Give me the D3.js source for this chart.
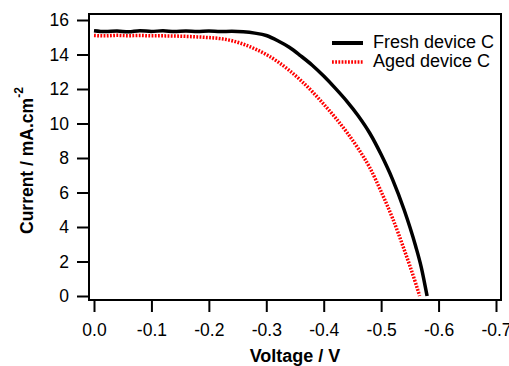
<!DOCTYPE html>
<html>
<head>
<meta charset="utf-8">
<script src="https://cdn.jsdelivr.net/npm/d3@7"></script>
<style>
  html, body { margin: 0; padding: 0; background: #fff; }
  svg { display: block; font-family: "Liberation Sans", Arial, sans-serif; }
</style>
</head>
<body>
<svg id="chart" width="509" height="366"></svg>
<script>
// J-V curves for device C, fresh and after ageing
const freshVoltage = [0, -0.02, -0.04, -0.06, -0.08, -0.10, -0.12, -0.14, -0.16, -0.18, -0.20, -0.22, -0.24, -0.26, -0.28, -0.30, -0.32, -0.34, -0.36, -0.38, -0.40, -0.42, -0.44, -0.46, -0.48, -0.50, -0.52, -0.54, -0.56, -0.57, -0.58];
const freshCurrent = [15.38, 15.33, 15.36, 15.32, 15.38, 15.34, 15.37, 15.33, 15.36, 15.34, 15.36, 15.33, 15.35, 15.32, 15.24, 15.10, 14.80, 14.42, 13.92, 13.38, 12.75, 12.05, 11.30, 10.45, 9.45, 8.20, 6.75, 5.00, 2.90, 1.65, 0.0];

const agedVoltage = [0, -0.02, -0.04, -0.06, -0.08, -0.10, -0.12, -0.14, -0.16, -0.18, -0.20, -0.22, -0.24, -0.26, -0.28, -0.30, -0.32, -0.34, -0.36, -0.38, -0.40, -0.42, -0.44, -0.46, -0.48, -0.50, -0.52, -0.54, -0.56, -0.567];
const agedCurrent = [15.10, 15.08, 15.11, 15.09, 15.10, 15.08, 15.08, 15.07, 15.05, 15.02, 14.98, 14.92, 14.80, 14.60, 14.33, 14.00, 13.58, 13.08, 12.50, 11.85, 11.12, 10.35, 9.50, 8.55, 7.45, 6.05, 4.50, 2.70, 0.75, 0.0];

const xTicks = [0, -0.1, -0.2, -0.3, -0.4, -0.5, -0.6, -0.7];
const yTicks = [0, 2, 4, 6, 8, 10, 12, 14, 16];

const seriesNames = ["Fresh device C", "Aged device C"];

const svg = d3.select("#chart");

const frame = { left: 89, right: 501, top: 14, bottom: 300 };

const x = d3.scaleLinear().domain([0, -0.7]).range([94, 496]);
const y = d3.scaleLinear().domain([0, 16]).range([296, 20]);

// plot frame
svg.append("rect")
  .attr("x", frame.left).attr("y", frame.top)
  .attr("width", frame.right - frame.left)
  .attr("height", frame.bottom - frame.top)
  .attr("fill", "none").attr("stroke", "#000").attr("stroke-width", 2);

// axes
const xAxis = d3.axisBottom(x).tickValues(xTicks).tickSizeOuter(0).tickSize(12).tickPadding(12)
  .tickFormat(d => d.toFixed(1));
const gx = svg.append("g").attr("transform", `translate(0,${frame.bottom})`).call(xAxis);
gx.select(".domain").remove();
gx.selectAll(".tick line").attr("stroke-width", 2);
gx.selectAll(".tick text").attr("font-size", 17.5).attr("fill", "#000")
  .attr("font-family", "'Liberation Sans', Arial, sans-serif");

const yAxis = d3.axisLeft(y).tickValues(yTicks).tickSizeOuter(0).tickSize(12).tickPadding(8);
const gy = svg.append("g").attr("transform", `translate(${frame.left},0)`).call(yAxis);
gy.select(".domain").remove();
gy.selectAll(".tick line").attr("stroke-width", 2);
gy.selectAll(".tick text").attr("font-size", 17.5).attr("fill", "#000")
  .attr("font-family", "'Liberation Sans', Arial, sans-serif");

// axis titles
svg.append("text")
  .attr("x", 295).attr("y", 362)
  .attr("text-anchor", "middle")
  .attr("font-size", 18).attr("font-weight", "bold")
  .text("Voltage / V");

const yTitle = svg.append("text")
  .attr("transform", "translate(33,234) rotate(-90)")
  .attr("text-anchor", "start")
  .attr("font-size", 17.5).attr("font-weight", "bold");
yTitle.append("tspan").text("Current / mA.cm");
yTitle.append("tspan").attr("dy", -10).attr("font-size", 12).text("-2");

// curves
const line = d3.line()
  .x(d => x(d[0]))
  .y(d => y(d[1]))
  .curve(d3.curveMonotoneX);

const freshData = freshVoltage.map((v, i) => [v, freshCurrent[i]]);
const agedData = agedVoltage.map((v, i) => [v, agedCurrent[i]]);

svg.append("path")
  .datum(agedData)
  .attr("d", line)
  .attr("fill", "none")
  .attr("stroke", "#ff0000")
  .attr("stroke-width", 3.5)
  .attr("stroke-dasharray", "1.8,1.4");

svg.append("path")
  .datum(freshData)
  .attr("d", line)
  .attr("fill", "none")
  .attr("stroke", "#000")
  .attr("stroke-width", 3.5);

// legend
const legend = svg.append("g");
legend.append("line")
  .attr("x1", 332).attr("x2", 363).attr("y1", 43).attr("y2", 43)
  .attr("stroke", "#000").attr("stroke-width", 4);
legend.append("text")
  .attr("x", 373).attr("y", 47.5).attr("font-size", 18)
  .text(seriesNames[0]);
legend.append("line")
  .attr("x1", 332).attr("x2", 363).attr("y1", 62).attr("y2", 62)
  .attr("stroke", "#ff0000").attr("stroke-width", 3.5)
  .attr("stroke-dasharray", "1.8,1.4");
legend.append("text")
  .attr("x", 373).attr("y", 66.5).attr("font-size", 18)
  .text(seriesNames[1]);
</script>
</body>
</html>
